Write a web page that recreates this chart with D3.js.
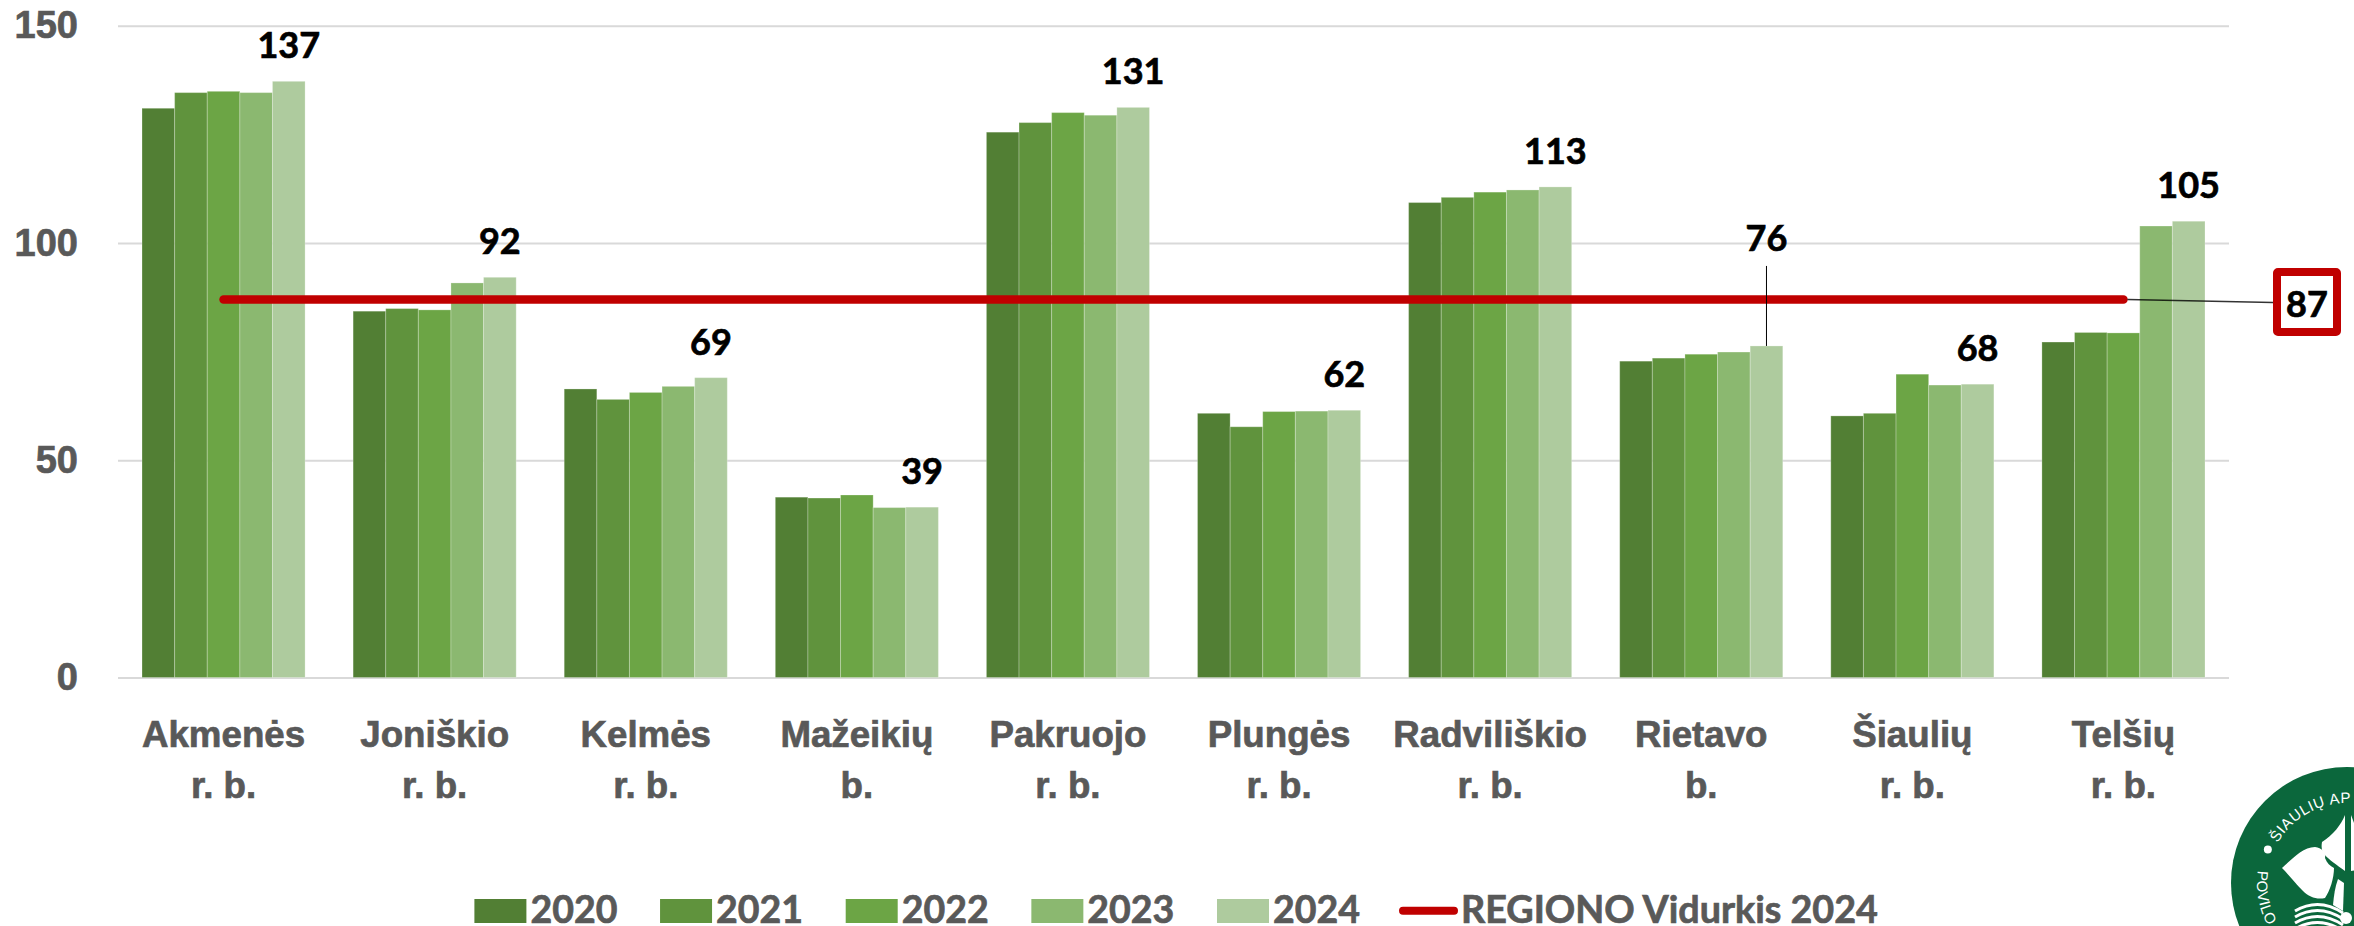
<!DOCTYPE html>
<html>
<head>
<meta charset="utf-8">
<script src="https://cdn.jsdelivr.net/npm/d3@7"></script>
<style>
  html, body { margin: 0; padding: 0; background: #fff; overflow: hidden; }
  svg { display: block; font-family: Lato, "Open Sans", sans-serif; font-weight: 700; }
</style>
</head>
<body>
<script>
const categories = ['Akmenės', 'Joniškio', 'Kelmės', 'Mažeikių', 'Pakruojo', 'Plungės', 'Radviliškio', 'Rietavo', 'Šiaulių', 'Telšių'];
const categorySuffix = ['r. b.', 'r. b.', 'r. b.', 'b.', 'r. b.', 'r. b.', 'r. b.', 'b.', 'r. b.', 'r. b.'];
const years = ['2020', '2021', '2022', '2023', '2024'];
const yTicks = [0, 50, 100, 150];

const v2020 = [131.0, 84.3, 66.4, 41.5, 125.5, 60.8, 109.3, 72.8, 60.2, 77.2];
const v2021 = [134.6, 84.9, 64.0, 41.3, 127.7, 57.7, 110.5, 73.5, 60.8, 79.4];
const v2022 = [134.9, 84.6, 65.6, 42.0, 130.0, 61.2, 111.7, 74.4, 69.8, 79.3];
const v2023 = [134.6, 90.8, 67.0, 39.1, 129.4, 61.3, 112.2, 74.9, 67.3, 103.9];
const v2024 = [137.2, 92.1, 69.0, 39.2, 131.2, 61.5, 112.9, 76.3, 67.5, 105.0];
const regionAvg = 87;

const series = [v2020, v2021, v2022, v2023, v2024];
const colors = ['#527f34', '#60933d', '#6ca545', '#8bb870', '#aecb9e'];
const red = '#c00000';
const grey = '#595959';

const svg = d3.select('body').append('svg').attr('width', 2354).attr('height', 926);

// shared text look, a thin stroke thickens Lato to the weight of the original
function heavy(sel, color, size) {
  return sel
    .attr('fill', color)
    .attr('stroke', color)
    .attr('stroke-width', 0.7)
    .style('font-family', 'inherit')
    .style('font-weight', 700)
    .style('font-size', size + 'px');
}

const x = d3.scaleBand().domain(categories).range([118, 2229]).paddingInner(0.2275).paddingOuter(0.11375);
const xYear = d3.scaleBand().domain(years).range([0, x.bandwidth()]);
const y = d3.scaleLinear().domain([0, 150]).range([677.5, 25.7]);

// y axis, ticks stretched over the plot are the gridlines
const yAxis = svg.append('g')
  .attr('transform', 'translate(118,0)')
  .call(d3.axisLeft(y).tickValues(yTicks).tickSize(-2111).tickPadding(40));
yAxis.select('.domain').remove();
yAxis.selectAll('line').attr('stroke', '#d9d9d9').attr('stroke-width', 2);
heavy(yAxis.selectAll('text'), grey, 38);

// x axis, two line labels
const xAxis = svg.append('g')
  .attr('transform', 'translate(0,677.5)')
  .call(d3.axisBottom(x).tickSize(0));
xAxis.select('.domain').remove();
xAxis.selectAll('text').each(function (d, i) {
  const t = heavy(d3.select(this).text(null).attr('y', 0).attr('dy', null), grey, 36.7);
  t.append('tspan').attr('x', 0).attr('y', 69).text(d);
  t.append('tspan').attr('x', 0).attr('y', 120.5).text(categorySuffix[i]);
});

// bars
const groups = svg.append('g').selectAll('g')
  .data(categories)
  .join('g')
  .attr('transform', d => `translate(${x(d)},0)`);

groups.each(function (d, c) {
  d3.select(this).selectAll('rect')
    .data(years)
    .join('rect')
    .attr('x', yr => xYear(yr))
    .attr('width', xYear.bandwidth())
    .attr('y', (yr, s) => y(series[s][c]))
    .attr('height', (yr, s) => y(0) - y(series[s][c]))
    .attr('fill', (yr, s) => colors[s])
    .attr('stroke', '#fff')
    .attr('stroke-opacity', 0.25)
    .attr('stroke-width', 1);
});

// region average line
const avgLine = d3.line().x(d => x(d) + x.bandwidth() / 2).y(() => y(regionAvg));
svg.append('path')
  .attr('d', avgLine([categories[0], categories[categories.length - 1]]))
  .attr('fill', 'none')
  .attr('stroke', red)
  .attr('stroke-width', 8.5)
  .attr('stroke-linecap', 'round');

// value labels on the 2024 bar
const xLabel = d => x(d) + xYear('2024') + xYear.bandwidth() / 2;
const lifted = 'Rietavo';
heavy(svg.append('g').selectAll('text')
  .data(categories)
  .join('text')
  .attr('x', xLabel)
  .attr('y', (d, i) => y(v2024[i]) - (d === lifted ? 95 : 23))
  .attr('text-anchor', 'middle')
  .text((d, i) => Math.round(v2024[i])), '#000', 36);

// leader for Rietavo
const iLifted = categories.indexOf(lifted);
svg.append('line')
  .attr('x1', xLabel(lifted)).attr('x2', xLabel(lifted))
  .attr('y1', y(v2024[iLifted]) - 80).attr('y2', y(v2024[iLifted]))
  .attr('stroke', '#000')
  .attr('stroke-width', 1);

// callout for the average
const xEnd = x(categories[9]) + x.bandwidth() / 2 + 4;
svg.append('line')
  .attr('x1', xEnd).attr('x2', 2273)
  .attr('y1', y(regionAvg)).attr('y2', y(regionAvg) + 3)
  .attr('stroke', '#000')
  .attr('stroke-opacity', 0.8)
  .attr('stroke-width', 1.5);
svg.append('rect')
  .attr('x', 2277).attr('y', 272)
  .attr('width', 60).attr('height', 60)
  .attr('rx', 1)
  .attr('fill', '#fff')
  .attr('stroke', red)
  .attr('stroke-width', 8)
  .attr('stroke-linejoin', 'round');
heavy(svg.append('text')
  .attr('x', 2307).attr('y', 316.5)
  .attr('text-anchor', 'middle')
  .text(regionAvg), '#000', 36);

// legend
const legend = svg.append('g');
const legendX = d3.scaleLinear().domain([0, 4]).range([474.4, 1217]);
years.forEach((yr, i) => {
  legend.append('rect')
    .attr('x', legendX(i)).attr('y', 899)
    .attr('width', 52).attr('height', 24)
    .attr('fill', colors[i]);
  heavy(legend.append('text')
    .attr('x', legendX(i) + 56).attr('y', 922.7)
    .text(yr), grey, 37.5);
});
legend.append('line')
  .attr('x1', 1403).attr('x2', 1454)
  .attr('y1', 910.7).attr('y2', 910.7)
  .attr('stroke', red)
  .attr('stroke-width', 8)
  .attr('stroke-linecap', 'round');
heavy(legend.append('text')
  .attr('x', 1461).attr('y', 922.7)
  .text('REGIONO Vidurkis 2024'), grey, 37.7);

// library logo, cut off by the page corner
const logo = svg.append('g').attr('transform', 'translate(2347,883)');
const logoGreen = '#0b673c';
logo.append('circle').attr('r', 116).attr('fill', logoGreen);

const polar = (r, deg) => {
  const a = deg * Math.PI / 180;
  return [r * Math.sin(a), -r * Math.cos(a)];
};
const defs = svg.append('defs');
const [ax, ay] = polar(80, -60);
const [bx, by] = polar(80, 60);
defs.append('path').attr('id', 'logoTop').attr('d', `M${ax},${ay}A80,80 0 0 1 ${bx},${by}`);
const [cx, cy] = polar(90, -82);
const [ex, ey] = polar(90, -160);
defs.append('path').attr('id', 'logoBottom').attr('d', `M${cx},${cy}A90,90 0 0 0 ${ex},${ey}`);

const logoText = logo.append('g')
  .attr('fill', '#fff')
  .style('font-family', '"Liberation Sans", sans-serif')
  .style('font-weight', 400)
  .style('font-size', '15px');
logoText.append('text').attr('letter-spacing', 0.6)
  .append('textPath').attr('href', '#logoTop').text('ŠIAULIŲ  AP');
logoText.append('text').attr('letter-spacing', 0.2)
  .append('textPath').attr('href', '#logoBottom').text('POVILO');
const [dx, dy] = polar(86, -67);
logo.append('circle').attr('cx', dx).attr('cy', dy).attr('r', 4).attr('fill', '#fff');

// leaves and open book
logo.append('path')
  .attr('fill', '#fff')
  .attr('d', 'M-65,-15 C-55,-24 -44,-36 -32,-36 C-24,-35 -21,-30 -22,-25 C-20,-20 -17,-17 -13,-15 C-13,-5 -17,8 -22,15 C-30,17 -38,14 -44,8 C-50,2 -58,-8 -65,-15Z');
logo.append('path')
  .attr('fill', '#fff')
  .attr('d', 'M-2,-68 C-6,-58 -14,-48 -25,-41 C-26,-35 -25,-32 -23,-29 C-18,-23 -10,-18 -2,-12Z M4,-68 C8,-58 10,-48 20,-41 L20,-15 L4,-12Z');
logo.append('path')
  .attr('fill', '#fff')
  .attr('d', 'M-9,-4 C-12,4 -13,12 -14,22 L-4,28 L-3,0Z');
logo.append('g')
  .attr('fill', 'none')
  .attr('stroke', '#fff')
  .attr('stroke-width', 3)
  .selectAll('path')
  .data([22, 28, 34, 40])
  .join('path')
  .attr('d', d => `M-52,${d + 6} Q-28,${d - 8} -4,${d + 8}`);
logo.append('circle').attr('cx', -1).attr('cy', 35).attr('r', 6).attr('fill', '#fff');
</script>
</body>
</html>
